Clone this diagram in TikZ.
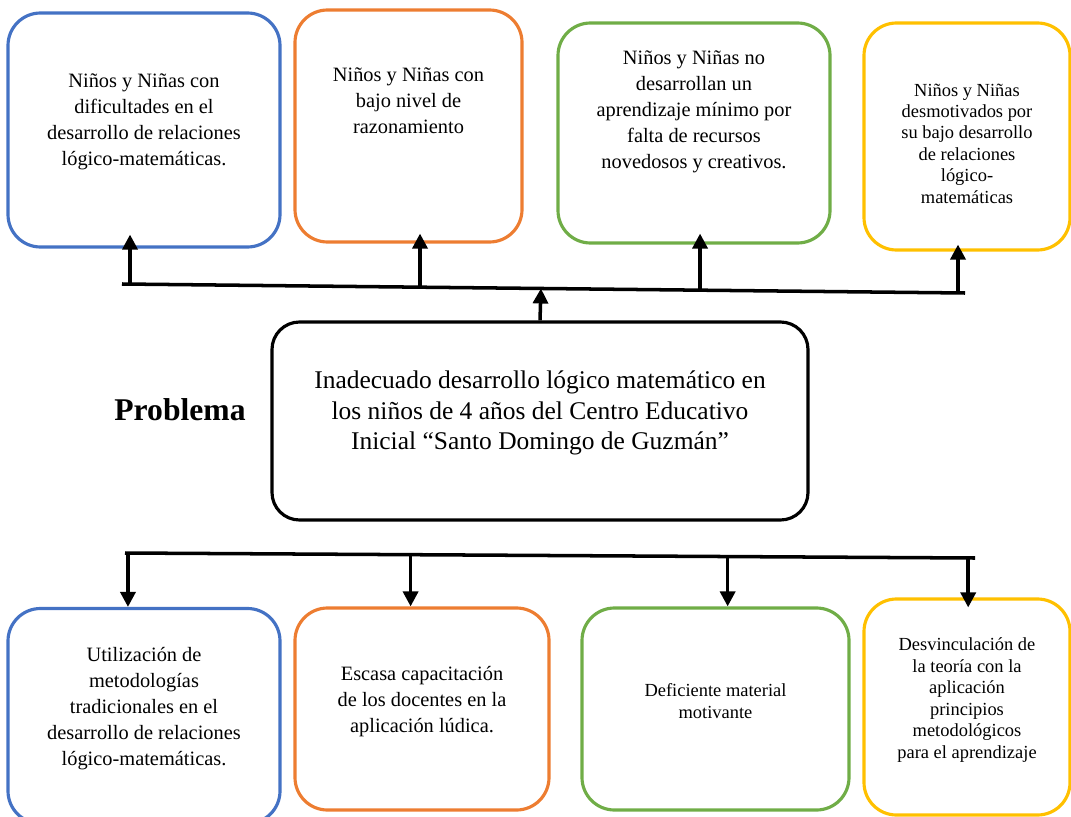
\documentclass[tikz,border=0pt]{standalone}
\usepackage{fontspec}
\setmainfont{Liberation Serif}
\usetikzlibrary{arrows.meta}
\definecolor{boxblue}{HTML}{4472C4}
\definecolor{boxorange}{HTML}{ED7D31}
\definecolor{boxgreen}{HTML}{70AD47}
\definecolor{boxyellow}{HTML}{FFC000}
\tikzset{
  card/.style={draw, line width=1.8pt, rounded corners=0.65cm, inner sep=0pt},
  txt/.style={align=center, font=\fontsize{11.6}{14.8}\selectfont},
  smalltxt/.style={align=center, font=\fontsize{10.5}{12.2}\selectfont},
  arr/.style={line width=2pt, -{Triangle[length=0.3cm,width=0.3cm]}},
  bar/.style={line width=2pt},
}
\begin{document}
\begin{tikzpicture}
  \useasboundingbox (0,0) rectangle (21.42,-16.34);
  % efectos
  \node (ef1) [card, boxblue, minimum width=5.44cm, minimum height=4.68cm] at (2.88,-2.60) {};
  \node (ef2) [card, boxorange, minimum width=4.54cm, minimum height=4.64cm] at (8.17,-2.52) {};
  \node (ef3) [card, boxgreen, minimum width=5.44cm, minimum height=4.40cm] at (13.88,-2.66) {};
  \node (ef4) [card, boxyellow, minimum width=4.12cm, minimum height=4.54cm] at (19.34,-2.73) {};
  \node (ef1t) [txt] at ([yshift=0.16cm]ef1) {Niños y Niñas con\\dificultades en el\\desarrollo de relaciones\\lógico-matemáticas.};
  \node (ef2t) [txt] at ([yshift=0.5cm]ef2) {Niños y Niñas con\\bajo nivel de\\razonamiento};
  \node (ef3t) [txt] at ([yshift=0.42cm]ef3) {Niños y Niñas no\\desarrollan un\\aprendizaje mínimo por\\falta de recursos\\novedosos y creativos.};
  \node (ef4t) [smalltxt] at ([yshift=-0.14cm]ef4) {Niños y Niñas\\desmotivados por\\su bajo desarrollo\\de relaciones\\lógico-\\matemáticas};

  % problema
  \node (prob) [card, black, rounded corners=0.55cm, minimum width=10.72cm, minimum height=3.96cm] at (10.80,-8.42) {};
  \node (probt) [align=center, font=\fontsize{14.5}{17.2}\selectfont] at ([yshift=0.16cm]prob) {Inadecuado desarrollo lógico matemático en\\los niños de 4 años del Centro Educativo\\Inicial “Santo Domingo de Guzmán”};
  \node (lbl) [font=\fontsize{18}{21}\selectfont\bfseries] at (3.60,-8.20) {Problema};

  % causas
  \node (ca1) [card, boxblue, minimum width=5.44cm, minimum height=4.30cm] at (2.88,-14.32) {};
  \node (ca2) [card, boxorange, minimum width=5.08cm, minimum height=4.04cm] at (8.44,-14.18) {};
  \node (ca3) [card, boxgreen, minimum width=5.34cm, minimum height=4.04cm] at (14.31,-14.18) {};
  \node (ca4) [card, boxyellow, minimum width=4.12cm, minimum height=4.32cm] at (19.34,-14.14) {};
  \node (ca1t) [txt] at ([yshift=0.15cm]ca1) {Utilización de\\metodologías\\tradicionales en el\\desarrollo de relaciones\\lógico-matemáticas.};
  \node (ca2t) [txt] at ([yshift=0.14cm]ca2) {Escasa capacitación\\de los docentes en la\\aplicación lúdica.};
  \node (ca3t) [smalltxt] at ([yshift=0.16cm]ca3) {Deficiente material\\motivante};
  \node (ca4t) [smalltxt] at ([yshift=0.14cm]ca4) {Desvinculación de\\la teoría con la\\aplicación\\principios\\metodológicos\\para el aprendizaje};

  % barra de efectos
  \coordinate (tbL) at (2.44,-5.68);
  \coordinate (tbR) at (19.30,-5.86);
  \draw[bar] (tbL) -- (tbR);
  \path (tbL) -- (tbR) coordinate[pos=0.0095] (u1) coordinate[pos=0.3535] (u2)
    coordinate[pos=0.6857] (u3) coordinate[pos=0.9917] (u4) coordinate[pos=0.497] (u0);
  \draw[arr, shorten >=-0.28cm] (u1) -- (u1 |- ef1.south);
  \draw[arr, shorten >=-0.2cm] (u2) -- (u2 |- ef2.south);
  \draw[arr, shorten >=-0.22cm] (u3) -- (u3 |- ef3.south);
  \draw[arr, shorten >=-0.14cm] (u4) -- (u4 |- ef4.south);
  \draw[arr] (prob.north) -- (u0);

  % barra de causas
  \coordinate (bbL) at (2.50,-11.06);
  \coordinate (bbR) at (19.50,-11.16);
  \draw[bar] (bbL) -- (bbR);
  \path (bbL) -- (bbR) coordinate[pos=0.0035] (d1) coordinate[pos=0.336] (d2)
    coordinate[pos=0.709] (d3) coordinate[pos=0.992] (d4);
  \draw[arr] (d1) -- (d1 |- ca1.north);
  \draw[arr] (d2) -- (d2 |- ca2.north);
  \draw[arr] (d3) -- (d3 |- ca3.north);
  \draw[arr, shorten >=-0.2cm] (d4) -- (d4 |- ca4.north);
\end{tikzpicture}
\end{document}
